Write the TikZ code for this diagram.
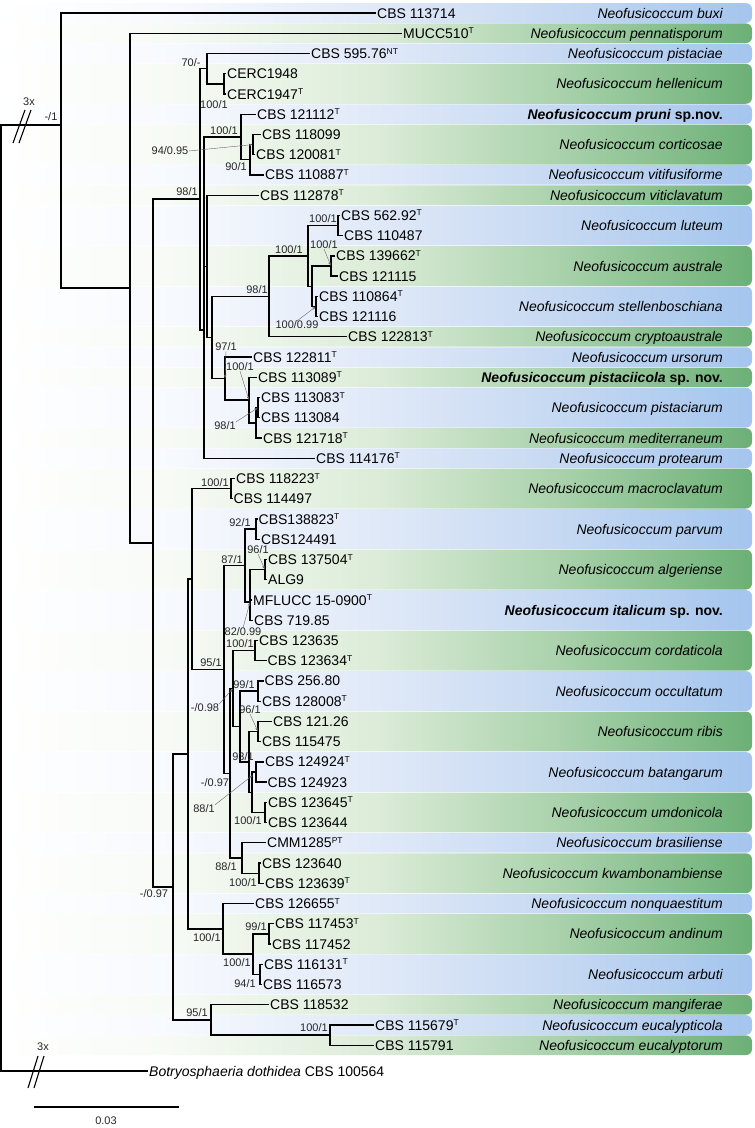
\documentclass[tikz,border=0pt]{standalone}
\usepackage{fontspec}
\setmainfont{Liberation Sans}
\usetikzlibrary{arrows.meta}
\definecolor{bb1}{RGB}{246,249,254}
\definecolor{bb2}{RGB}{224,233,248}
\definecolor{bb3}{RGB}{198,217,242}
\definecolor{bb4}{RGB}{164,197,238}
\definecolor{gb1}{RGB}{246,250,244}
\definecolor{gb2}{RGB}{220,236,216}
\definecolor{gb3}{RGB}{170,210,172}
\definecolor{gb4}{RGB}{108,176,118}
\pgfdeclarehorizontalshading{blueband}{100bp}{color(0bp)=(white); color(25bp)=(white); color(37bp)=(bb1); color(50bp)=(bb2); color(62bp)=(bb3); color(75bp)=(bb4); color(100bp)=(bb4)}
\pgfdeclarehorizontalshading{greenband}{100bp}{color(0bp)=(white); color(25bp)=(white); color(37bp)=(gb1); color(50bp)=(gb2); color(62bp)=(gb3); color(75bp)=(gb4); color(100bp)=(gb4)}
\newcommand\supr[1]{\raisebox{4.5pt}{\fontsize{8.5}{9}\selectfont #1}}
\newcommand\myband[4]{%
  \pgfmathsetmacro\bt{13+20.24*(#1-1)-10.12+0.3}%
  \pgfmathsetmacro\bb{13+20.24*(#2-1)+10.12-0.3}%
  \pgfmathsetmacro\bm{(\bt+\bb)/2}%
  \shade[shading=#3, rounded corners=6pt] (0,\bt) rectangle (752,\bb);%
  \node[splab] (sp#1) at (723,\bm) {#4};}
\begin{document}
\begin{tikzpicture}[x=1pt,y=-1pt,
  leaf/.style={anchor=west, inner xsep=1.5pt, inner ysep=0pt, text height=10pt, text depth=0pt, font=\fontsize{14}{16}\selectfont},
  splab/.style={anchor=east, inner sep=0pt, text height=10pt, text depth=0pt, font=\fontsize{14}{16}\selectfont\itshape},
  bs/.style={inner sep=0pt, text height=7.8pt, text depth=0pt, text=black!85, font=\fontsize{11}{12}\selectfont},
  br/.style={line width=1.35pt, line join=miter, line cap=rect},
  ptr/.style={draw=black!60, line width=0.4pt, -{Stealth[length=3.5pt,width=2.5pt]}, shorten >=0.5pt},
  brk/.style={line width=1.1pt}]
\useasboundingbox (0,0) rectangle (755,1128);
\fill[white] (0,0) rectangle (755,1128);
% ---------- bands ----------
\myband{1}{1}{blueband}{Neofusicoccum buxi}
\myband{2}{2}{greenband}{Neofusicoccum pennatisporum}
\myband{3}{3}{blueband}{Neofusicoccum pistaciae}
\myband{4}{5}{greenband}{Neofusicoccum hellenicum}
\myband{6}{6}{blueband}{\textbf{Neofusicoccum pruni \textup{sp.nov.}}}
\myband{7}{8}{greenband}{Neofusicoccum corticosae}
\myband{9}{9}{blueband}{Neofusicoccum vitifusiforme}
\myband{10}{10}{greenband}{Neofusicoccum viticlavatum}
\myband{11}{12}{blueband}{Neofusicoccum luteum}
\myband{13}{14}{greenband}{Neofusicoccum australe}
\myband{15}{16}{blueband}{Neofusicoccum stellenboschiana}
\myband{17}{17}{greenband}{Neofusicoccum cryptoaustrale}
\myband{18}{18}{blueband}{Neofusicoccum ursorum}
\myband{19}{19}{greenband}{\textbf{Neofusicoccum pistaciicola \textup{sp. nov.}}}
\myband{20}{21}{blueband}{Neofusicoccum pistaciarum}
\myband{22}{22}{greenband}{Neofusicoccum mediterraneum}
\myband{23}{23}{blueband}{Neofusicoccum protearum}
\myband{24}{25}{greenband}{Neofusicoccum macroclavatum}
\myband{26}{27}{blueband}{Neofusicoccum parvum}
\myband{28}{29}{greenband}{Neofusicoccum algeriense}
\myband{30}{31}{blueband}{\textbf{Neofusicoccum italicum \textup{sp. nov.}}}
\myband{32}{33}{greenband}{Neofusicoccum cordaticola}
\myband{34}{35}{blueband}{Neofusicoccum occultatum}
\myband{36}{37}{greenband}{Neofusicoccum ribis}
\myband{38}{39}{blueband}{Neofusicoccum batangarum}
\myband{40}{41}{greenband}{Neofusicoccum umdonicola}
\myband{42}{42}{blueband}{Neofusicoccum brasiliense}
\myband{43}{44}{greenband}{Neofusicoccum kwambonambiense}
\myband{45}{45}{blueband}{Neofusicoccum nonquaestitum}
\myband{46}{47}{greenband}{Neofusicoccum andinum}
\myband{48}{49}{blueband}{Neofusicoccum arbuti}
\myband{50}{50}{greenband}{Neofusicoccum mangiferae}
\myband{51}{51}{blueband}{Neofusicoccum eucalypticola}
\myband{52}{52}{greenband}{Neofusicoccum eucalyptorum}
% ---------- leaves ----------
\node[leaf] (t1) at (375.5,13.0) {CBS 113714};
\node[leaf] (t2) at (401.5,33.2) {MUCC510\supr{T}};
\node[leaf] (t3) at (309.5,53.5) {CBS 595.76\supr{NT}};
\node[leaf] (t4) at (225.5,73.7) {CERC1948};
\node[leaf] (t5) at (225.5,94.0) {CERC1947\supr{T}};
\node[leaf] (t6) at (255.5,114.2) {CBS 121112\supr{T}};
\node[leaf] (t7) at (260.5,134.4) {CBS 118099};
\node[leaf] (t8) at (254.5,154.7) {CBS 120081\supr{T}};
\node[leaf] (t9) at (263.5,174.9) {CBS 110887\supr{T}};
\node[leaf] (t10) at (258.5,195.2) {CBS 112878\supr{T}};
\node[leaf] (t11) at (339.5,215.4) {CBS 562.92\supr{T}};
\node[leaf] (t12) at (342.5,235.6) {CBS 110487};
\node[leaf] (t13) at (334.5,255.9) {CBS 139662\supr{T}};
\node[leaf] (t14) at (337.5,276.1) {CBS 121115};
\node[leaf] (t15) at (317.5,296.4) {CBS 110864\supr{T}};
\node[leaf] (t16) at (317.5,316.6) {CBS 121116};
\node[leaf] (t17) at (346.5,336.8) {CBS 122813\supr{T}};
\node[leaf] (t18) at (251.5,357.1) {CBS 122811\supr{T}};
\node[leaf] (t19) at (256.5,377.3) {CBS 113089\supr{T}};
\node[leaf] (t20) at (259.5,397.6) {CBS 113083\supr{T}};
\node[leaf] (t21) at (259.5,417.8) {CBS 113084};
\node[leaf] (t22) at (261.5,438.0) {CBS 121718\supr{T}};
\node[leaf] (t23) at (314.5,458.3) {CBS 114176\supr{T}};
\node[leaf] (t24) at (234.5,478.5) {CBS 118223\supr{T}};
\node[leaf] (t25) at (232.0,498.8) {CBS 114497};
\node[leaf] (t26) at (257.0,519.0) {CBS138823\supr{T}};
\node[leaf] (t27) at (259.5,539.2) {CBS124491};
\node[leaf] (t28) at (266.5,559.5) {CBS 137504\supr{T}};
\node[leaf] (t29) at (266.5,579.7) {ALG9};
\node[leaf] (t30) at (251.5,600.0) {MFLUCC 15-0900\supr{T}};
\node[leaf] (t31) at (252.5,620.2) {CBS 719.85};
\node[leaf] (t32) at (257.5,640.4) {CBS 123635};
\node[leaf] (t33) at (266.0,660.7) {CBS 123634\supr{T}};
\node[leaf] (t34) at (263.0,680.9) {CBS 256.80};
\node[leaf] (t35) at (260.5,701.2) {CBS 128008\supr{T}};
\node[leaf] (t36) at (271.5,721.4) {CBS 121.26};
\node[leaf] (t37) at (260.5,741.6) {CBS 115475};
\node[leaf] (t38) at (263.5,761.9) {CBS 124924\supr{T}};
\node[leaf] (t39) at (266.0,782.1) {CBS 124923};
\node[leaf] (t40) at (266.5,802.4) {CBS 123645\supr{T}};
\node[leaf] (t41) at (266.5,822.6) {CBS 123644};
\node[leaf] (t42) at (265.5,842.8) {CMM1285\supr{PT}};
\node[leaf] (t43) at (260.5,863.1) {CBS 123640};
\node[leaf] (t44) at (263.5,883.3) {CBS 123639\supr{T}};
\node[leaf] (t45) at (253.5,903.6) {CBS 126655\supr{T}};
\node[leaf] (t46) at (273.5,923.8) {CBS 117453\supr{T}};
\node[leaf] (t47) at (270.5,944.0) {CBS 117452};
\node[leaf] (t48) at (262.5,964.3) {CBS 116131\supr{T}};
\node[leaf] (t49) at (261.5,984.5) {CBS 116573};
\node[leaf] (t50) at (268.5,1004.8) {CBS 118532};
\node[leaf] (t51) at (373.5,1025.0) {CBS 115679\supr{T}};
\node[leaf] (t52) at (373.5,1045.2) {CBS 115791};
\node[leaf] (t53) at (147.5,1071.0) {\textit{Botryosphaeria dothidea} CBS 100564};
% ---------- internal nodes ----------
\coordinate (root) at (1,598);
\coordinate (A) at (61,125);
\coordinate (B) at (130,288.1);
\coordinate (C) at (153,543);
\coordinate (D) at (200,199);
\coordinate (E1) at (207,68.7);
\coordinate (H) at (224,83.85);
\coordinate (F) at (204,330);
\coordinate (P1) at (241,137);
\coordinate (P2) at (250,159.7);
\coordinate (P3) at (253,144.55);
\coordinate (G) at (207,266.35);
\coordinate (R) at (212,337.5);
\coordinate (K) at (269,296.35);
\coordinate (Pn) at (308,255.9);
\coordinate (Lu) at (338,225.5);
\coordinate (Q) at (312,286.25);
\coordinate (Au) at (331,266);
\coordinate (St) at (316,306.5);
\coordinate (S) at (225,378.6);
\coordinate (T) at (249,400.1);
\coordinate (U) at (256,422.85);
\coordinate (V) at (258,407.7);
\coordinate (L1) at (173,886.95);
\coordinate (L2) at (188,753.95);
\coordinate (M) at (192,579);
\coordinate (Mc) at (231,488.65);
\coordinate (N) at (224,669.4);
\coordinate (N2) at (245,565.55);
\coordinate (Pv) at (256,529.1);
\coordinate (X) at (250,602);
\coordinate (Al) at (265,569.6);
\coordinate (Y) at (230,773.25);
\coordinate (O) at (233,688.5);
\coordinate (Co) at (255,650.55);
\coordinate (O2) at (240,726.5);
\coordinate (Oc) at (258,691.05);
\coordinate (Q2) at (249,761.9);
\coordinate (Ri) at (258,731.5);
\coordinate (Q3) at (252,792.25);
\coordinate (Q3p) at (253,775);
\coordinate (Ba) at (256,772);
\coordinate (Um) at (265,812.5);
\coordinate (Z) at (242,858);
\coordinate (Kw) at (259,873.2);
\coordinate (W2) at (223,928.9);
\coordinate (W3) at (253,954.15);
\coordinate (An) at (269,933.9);
\coordinate (Ar) at (260,974.4);
\coordinate (Mg) at (211,1019.95);
\coordinate (Eu) at (330,1035.1);
% ---------- branches ----------
\draw[br] (root) |- (A);  \draw[br] (root) |- (t53.west);
\draw[br] (A) |- (t1.west); \draw[br] (A) |- (B);
\draw[br] (B) |- (t2.west); \draw[br] (B) |- (C);
\draw[br] (C) |- (D);  \draw[br] (C) |- (L1);
\draw[br] (D) |- (E1); \draw[br] (D) |- (F);
\draw[br] (E1) |- (t3.west); \draw[br] (E1) |- (H);
\draw[br] (H) |- (t4.west); \draw[br] (H) |- (t5.west);
\draw[br] (F) |- (P1); \draw[br] (F) |- (G); \draw[br] (F) |- (t23.west);
\draw[br] (P1) |- (t6.west); \draw[br] (P1) |- (P2);
\draw[br] (P2) |- (P3); \draw[br] (P2) |- (t9.west);
\draw[br] (P3) |- (t7.west); \draw[br] (P3) |- (t8.west);
\draw[br] (G) |- (t10.west); \draw[br] (G) |- (R);
\draw[br] (R) |- (K); \draw[br] (R) |- (S);
\draw[br] (K) |- (Pn); \draw[br] (K) |- (t17.west);
\draw[br] (Pn) |- (Lu); \draw[br] (Pn) |- (Q);
\draw[br] (Lu) |- (t11.west); \draw[br] (Lu) |- (t12.west);
\draw[br] (Q) |- (Au); \draw[br] (Q) |- (St);
\draw[br] (Au) |- (t13.west); \draw[br] (Au) |- (t14.west);
\draw[br] (St) |- (t15.west); \draw[br] (St) |- (t16.west);
\draw[br] (S) |- (t18.west); \draw[br] (S) |- (T);
\draw[br] (T) |- (t19.west); \draw[br] (T) |- (U);
\draw[br] (U) |- (V); \draw[br] (U) |- (t22.west);
\draw[br] (V) |- (t20.west); \draw[br] (V) |- (t21.west);
\draw[br] (L1) |- (L2); \draw[br] (L1) |- (Mg);
\draw[br] (L2) |- (M); \draw[br] (L2) |- (W2);
\draw[br] (M) |- (Mc); \draw[br] (M) |- (N);
\draw[br] (Mc) |- (t24.west); \draw[br] (Mc) |- (t25.west);
\draw[br] (N) |- (N2); \draw[br] (N) |- (Y);
\draw[br] (N2) |- (Pv); \draw[br] (N2) |- (X);
\draw[br] (Pv) |- (t26.west); \draw[br] (Pv) |- (t27.west);
\draw[br] (X) |- (Al); \draw[br] (X) |- (t30.west); \draw[br] (X) |- (t31.west);
\draw[br] (Al) |- (t28.west); \draw[br] (Al) |- (t29.west);
\draw[br] (Y) |- (O); \draw[br] (Y) |- (Z);
\draw[br] (O) |- (Co); \draw[br] (O) |- (O2);
\draw[br] (Co) |- (t32.west); \draw[br] (Co) |- (t33.west);
\draw[br] (O2) |- (Oc); \draw[br] (O2) |- (Q2);
\draw[br] (Oc) |- (t34.west); \draw[br] (Oc) |- (t35.west);
\draw[br] (Q2) |- (Ri); \draw[br] (Q2) |- (Q3);
\draw[br] (Ri) |- (t36.west); \draw[br] (Ri) |- (t37.west);
\draw[br] (Q3) |- (Ba); \draw[br] (Q3) |- (Um);
\draw[br] (Ba) |- (t38.west); \draw[br] (Ba) |- (t39.west);
\draw[br] (Um) |- (t40.west); \draw[br] (Um) |- (t41.west);
\draw[br] (Z) |- (t42.west); \draw[br] (Z) |- (Kw);
\draw[br] (Kw) |- (t43.west); \draw[br] (Kw) |- (t44.west);
\draw[br] (W2) |- (t45.west); \draw[br] (W2) |- (W3);
\draw[br] (W3) |- (An); \draw[br] (W3) |- (Ar);
\draw[br] (An) |- (t46.west); \draw[br] (An) |- (t47.west);
\draw[br] (Ar) |- (t48.west); \draw[br] (Ar) |- (t49.west);
\draw[br] (Mg) |- (t50.west); \draw[br] (Mg) |- (Eu);
\draw[br] (Eu) |- (t51.west); \draw[br] (Eu) |- (t52.west);
% ---------- break marks ----------
\coordinate (k1a) at (13,143); \coordinate (k1b) at (25,110);
\coordinate (k2a) at (19,143); \coordinate (k2b) at (31,110);
\draw[brk] (k1a) -- (k1b); \draw[brk] (k2a) -- (k2b);
\coordinate (k3a) at (28,1088); \coordinate (k3b) at (38,1056);
\coordinate (k4a) at (34,1088); \coordinate (k4b) at (44,1056);
\draw[brk] (k3a) -- (k3b); \draw[brk] (k4a) -- (k4b);
\node[bs] (x3a) at (29,102) {3x};
\node[bs] (x3b) at (43,1047) {3x};
% ---------- support values ----------
\node[bs] (bsA) at (51,117) {-/1};
\node[bs] (bsE) at (191,63) {70/-};
\node[bs] (bsH) at (214,105) {100/1};
\node[bs] (bsP1) at (224,131) {100/1};
\node[bs] (bsP3) at (170,151) {94/0.95};
\node[bs] (bsP2) at (236,167) {90/1};
\node[bs] (bsD) at (187,192) {98/1};
\node[bs] (bsLu) at (323,219) {100/1};
\node[bs] (bsPn) at (289,250) {100/1};
\node[bs] (bsAu) at (324,245) {100/1};
\node[bs] (bsK) at (257,290) {98/1};
\node[bs] (bsSt) at (297,325) {100/0.99};
\node[bs] (bsS) at (226,347) {97/1};
\node[bs] (bsT) at (240,367) {100/1};
\node[bs] (bsV) at (225,426) {98/1};
\node[bs] (bsMc) at (215,483) {100/1};
\node[bs] (bsPv) at (240,523) {92/1};
\node[bs] (bsN2) at (232,560) {87/1};
\node[bs] (bsAl) at (258,550) {96/1};
\node[bs] (bsX) at (243,632) {82/0.99};
\node[bs] (bsN) at (211,663) {95/1};
\node[bs] (bsCo) at (240,644) {100/1};
\node[bs] (bsO) at (205,708) {-/0.98};
\node[bs] (bsOc) at (244,685) {99/1};
\node[bs] (bsRi) at (250,710) {96/1};
\node[bs] (bsQ2) at (243,757) {93/1};
\node[bs] (bsY) at (215,783) {-/0.97};
\node[bs] (bsQ3) at (204,809) {88/1};
\node[bs] (bsUm) at (248,821) {100/1};
\node[bs] (bsZ) at (226,867) {88/1};
\node[bs] (bsKw) at (243,883) {100/1};
\node[bs] (bsL1) at (154,894) {-/0.97};
\node[bs] (bsW2) at (207,938) {100/1};
\node[bs] (bsW3) at (237,963) {100/1};
\node[bs] (bsAn) at (256,927) {99/1};
\node[bs] (bsAr) at (245,984) {94/1};
\node[bs] (bsMg) at (197,1013) {95/1};
\node[bs] (bsEu) at (314,1028) {100/1};
% ---------- pointers ----------
\draw[ptr] (bsP3.east) -- (P3);
\draw[ptr] (bsAu.south) -- (Au);
\draw[ptr] (bsSt.north) -- (St);
\draw[ptr] (bsS.south) -- (S);
\draw[ptr] (bsT.south) -- (T);
\draw[ptr] (bsV.north east) -- (V);
\draw[ptr] (bsAl.south) -- (Al);
\draw[ptr] (bsX.north) -- (X);
\draw[ptr] (bsO.north east) -- (O);
\draw[ptr] (bsRi.south) -- (Ri);
\draw[ptr] (bsQ3.north east) -- (Q3p);
% ---------- scale bar ----------
\coordinate (sb1) at (34,1107); \coordinate (sb2) at (179,1107);
\draw[line width=1.2pt] (sb1) -- (sb2);
\node[bs] (sbl) at (106,1121) {0.03};
\end{tikzpicture}
\end{document}
